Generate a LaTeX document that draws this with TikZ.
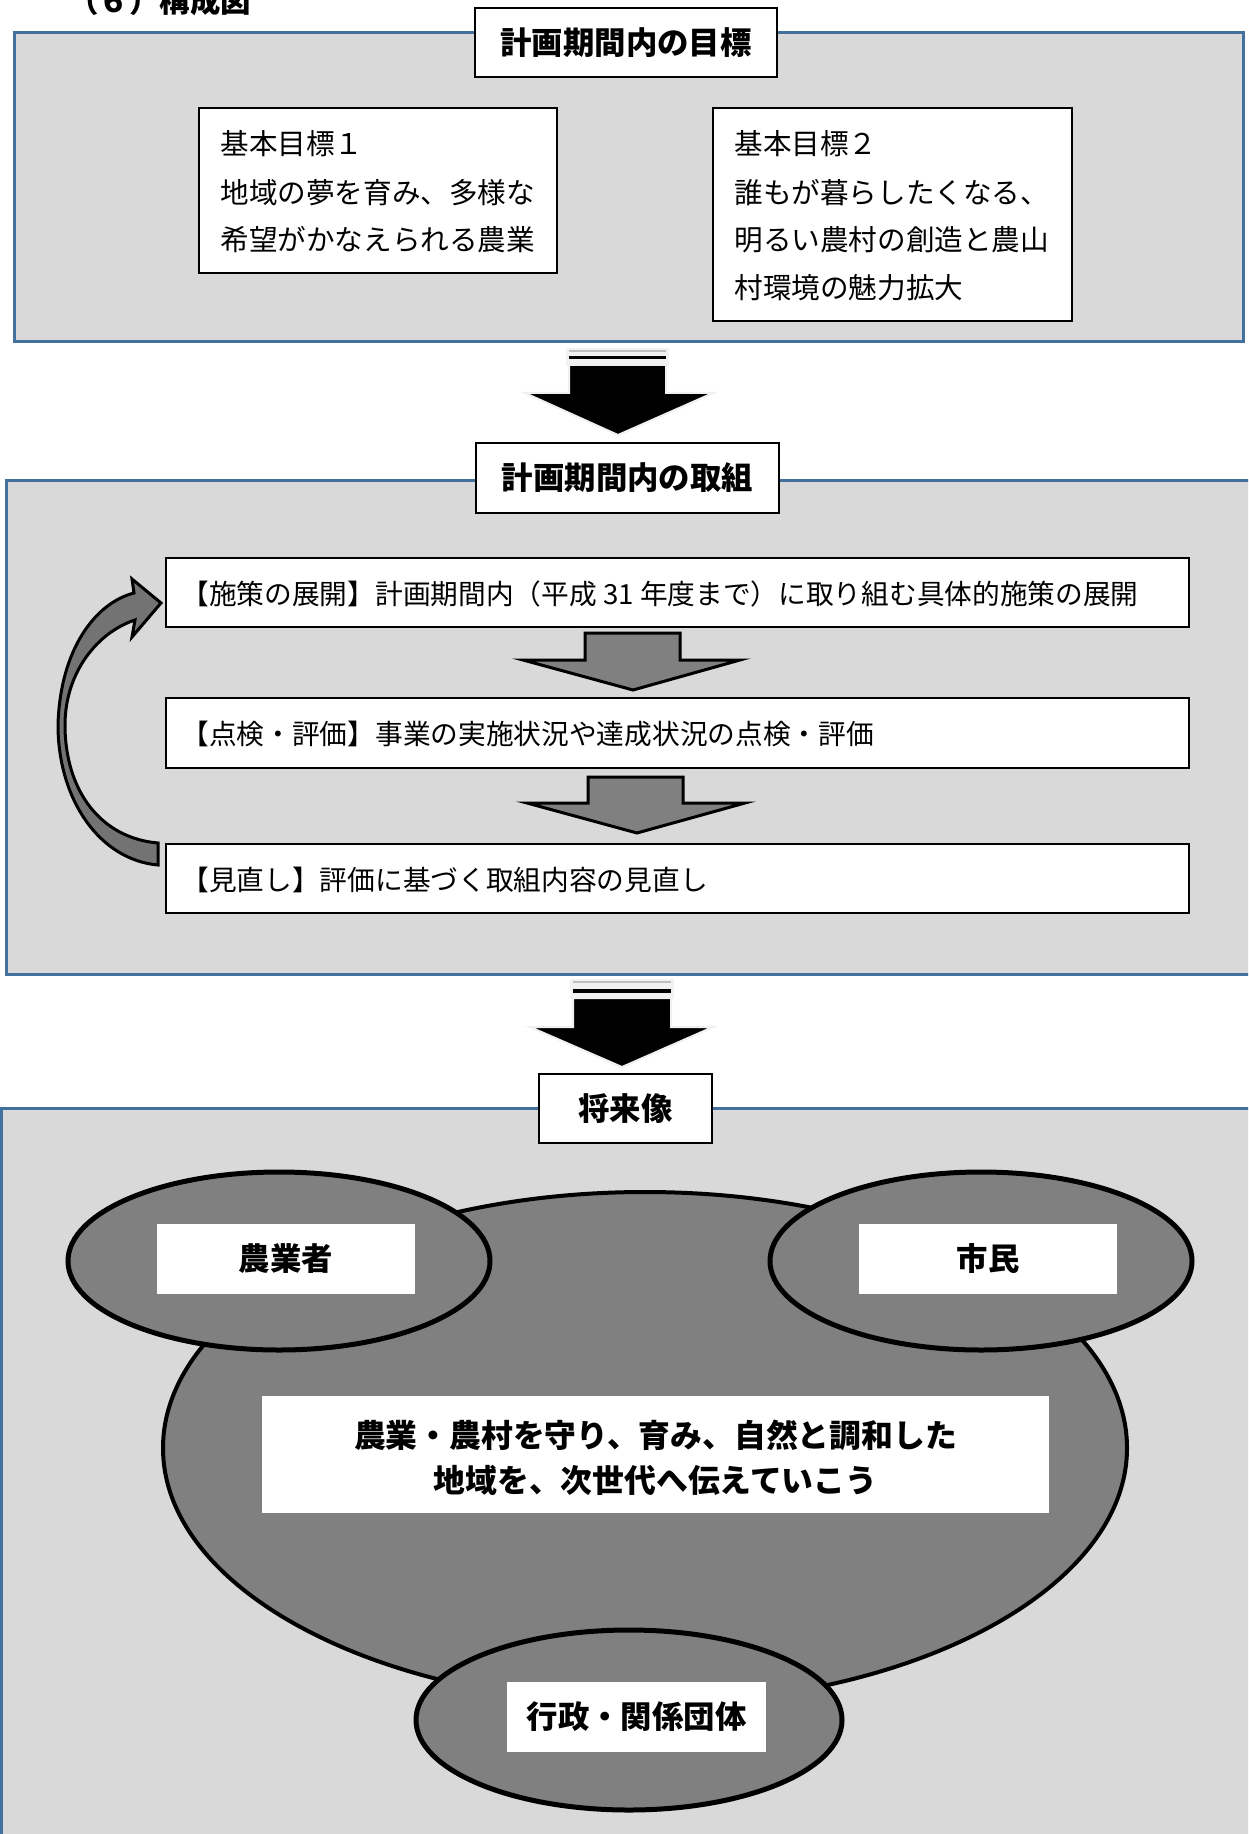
\documentclass[tikz,border=0pt]{standalone}
\usepackage{fontspec}
\setmainfont{Noto Sans CJK JP}
\usetikzlibrary{fit,shapes.geometric}
\definecolor{boxgray}{RGB}{217,217,217}
\definecolor{frameblue}{RGB}{65,113,156}
\definecolor{midgray}{RGB}{128,128,128}
\definecolor{curvegray}{RGB}{115,115,115}
\tikzset{
  outerframe/.style={draw=frameblue, line width=1.5pt, fill=boxgray, inner sep=0pt},
  titlebox/.style={draw=black, line width=1pt, fill=white, inner sep=0pt, font=\bfseries\fontsize{15.7}{18}\selectfont},
  goalbox/.style={draw=black, line width=1pt, fill=white, inner sep=0pt},
  goaltext/.style={anchor=west, inner sep=0pt, font=\fontsize{14.3}{17}\selectfont},
  stepbox/.style={draw=black, line width=0.8pt, fill=white, inner sep=0pt},
  steptext/.style={anchor=west, inner sep=0pt, font=\fontsize{13.85}{17}\selectfont},
  blackarrow/.style={fill=black},
  grayarrow/.style={fill=midgray, draw=black, line width=1.5pt, line join=miter},
  blob/.style={ellipse, fill=midgray, draw=black, line width=2.5pt, inner sep=0pt},
  labelbox/.style={fill=white, inner sep=0pt, font=\bfseries\fontsize{15.7}{18}\selectfont},
  centertext/.style={inner sep=0pt, font=\bfseries\fontsize{15.9}{18}\selectfont}
}
\begin{document}
\begin{tikzpicture}[x=0.5pt, y=-0.5pt]
\useasboundingbox (0,0) rectangle (1248,1834);
\clip (0,0) rectangle (1248,1834);
\fill[white] (0,0) rectangle (1248,1834);

% heading
\node[anchor=base west, inner sep=0pt, font=\bfseries\fontsize{15.25}{18}\selectfont] (heading) at (68,13) {（６）構成図};

% ---------- section 1 ----------
\node[outerframe, fit={(14,33) (1243,342)}] (goalframe) {};
\node[titlebox, minimum width=151pt, minimum height=34.5pt] (goaltitle) at (626,42.5) {計画期間内の目標};

\node[goalbox, fit={(199,108) (557,273)}] (goalA) {};
\node[goaltext] (goalA1) at (220,144) {基本目標１};
\node[goaltext] (goalA2) at (220,193) {地域の夢を育み、多様な};
\node[goaltext] (goalA3) at (220,240) {希望がかなえられる農業};

\node[goalbox, fit={(713,108) (1072,321)}] (goalB) {};
\node[goaltext] (goalB1) at (734,144) {基本目標２};
\node[goaltext] (goalB2) at (734,193) {誰もが暮らしたくなる、};
\node[goaltext] (goalB3) at (734,240) {明るい農村の創造と農山};
\node[goaltext] (goalB4) at (734,288) {村環境の魅力拡大};

% big arrow 1
\fill[black!5] (566,348) rectangle (669,366);
\draw[black!25, line width=0.6pt] (569,351) -- (666,351);
\fill[black] (569,356) rectangle (666,359.5);
\filldraw[blackarrow, draw=black!6, line width=1pt] (569,365) -- (666,365) -- (666,393) -- (713,393) -- (618,435) -- (525,393) -- (569,393) -- cycle;

% ---------- section 2 ----------
\node[outerframe, fit={(6,480) (1270,974)}] (actframe) {};
\node[titlebox, minimum width=151.5pt, minimum height=35pt] (acttitle) at (627.5,478) {計画期間内の取組};

\node[stepbox, fit={(166,558) (1189,627)}] (stepA) {};
\node[steptext] (stepAt) at (181,594) {【施策の展開】計画期間内（平成 31 年度まで）に取り組む具体的施策の展開};
\node[stepbox, fit={(166,698) (1189,768)}] (stepB) {};
\node[steptext] (stepBt) at (181,734) {【点検・評価】事業の実施状況や達成状況の点検・評価};
\node[stepbox, fit={(166,844) (1189,913)}] (stepC) {};
\node[steptext] (stepCt) at (181,880) {【見直し】評価に基づく取組内容の見直し};

\draw[grayarrow] (585,633) -- (680,633) -- (680,660) -- (740,660) -- (633,690) -- (523,660) -- (585,660) -- cycle;
\draw[grayarrow] (588,777) -- (683,777) -- (683,803) -- (745,803) -- (637,833) -- (527,803) -- (588,803) -- cycle;

% curved feedback arrow
\draw[fill=curvegray, draw=black, line width=1.5pt, line join=miter]
  (158,865) .. controls (100,860) and (58,800) .. (58,725)
  .. controls (60,650) and (95,603) .. (134,593)
  -- (132,579) -- (161,603) -- (132,637) -- (135,620)
  .. controls (98,632) and (65,672) .. (65,725)
  .. controls (65,790) and (100,838) .. (158,843) -- cycle;

% big arrow 2
\fill[black!5] (570,979) rectangle (674,999);
\draw[black!25, line width=0.6pt] (573,982) -- (671,982);
\fill[black] (573,989) rectangle (671,992.5);
\filldraw[blackarrow, draw=black!6, line width=1pt] (573,998) -- (671,998) -- (671,1027) -- (713,1027) -- (622,1067) -- (530,1027) -- (573,1027) -- cycle;

% ---------- section 3 ----------
\node[outerframe, fit={(1,1108) (1270,1860)}] (visionframe) {};
\node[titlebox, minimum width=86.5pt, minimum height=34.5pt] (visiontitle) at (625.5,1108.5) {将来像};

\node[blob, line width=2pt, minimum width=482pt, minimum height=256pt] (region) at (645,1448) {};
\node[blob, minimum width=211pt, minimum height=89pt] (farmerE) at (279,1261) {};
\node[blob, minimum width=211pt, minimum height=89pt] (citizenE) at (981,1261) {};
\node[blob, minimum width=213pt, minimum height=90pt] (adminE) at (629,1720) {};

\node[labelbox, minimum width=129pt, minimum height=35pt] (farmer) at (286,1259) {農業者};
\node[labelbox, minimum width=129pt, minimum height=35pt] (citizen) at (988,1259) {市民};
\node[labelbox, minimum width=129.5pt, minimum height=35pt] (admin) at (636.5,1717) {行政・関係団体};

\node[fill=white, inner sep=0pt, minimum width=393.5pt, minimum height=58.5pt] (goalcenter) at (655.5,1454.5) {};
\node[centertext] (goalline1) at (655.5,1435) {農業・農村を守り、育み、自然と調和した};
\node[centertext] (goalline2) at (655.5,1480) {地域を、次世代へ伝えていこう};
\end{tikzpicture}
\end{document}
